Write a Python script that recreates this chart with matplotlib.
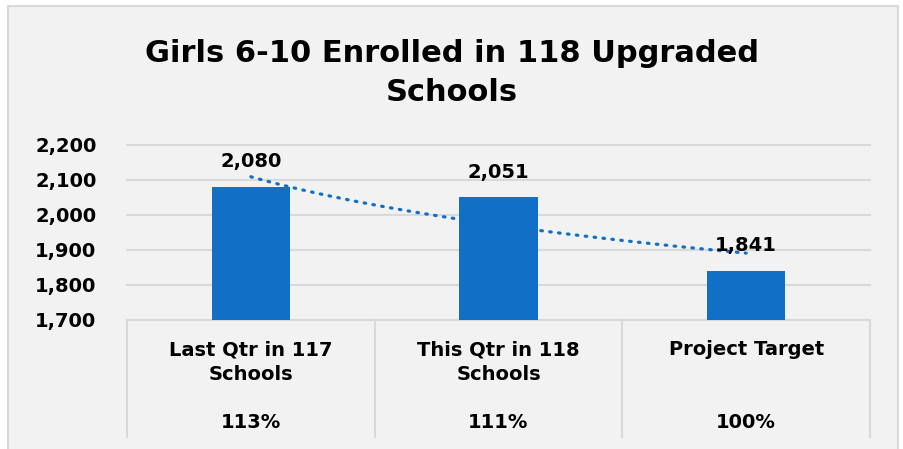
"""
Girls 6-10 enrolment — bar chart with log trendline and data table row.
"""
import matplotlib
matplotlib.use("Agg")
import matplotlib.pyplot as plt
import matplotlib.transforms as mtransforms
from matplotlib.patches import Rectangle
import numpy as np

# ── data ────────────────────────────────────────────────────────────────────
categories = ["Last Qtr in 117\nSchools", "This Qtr in 118\nSchools", "Project Target"]
enrolled = [2080, 2051, 1841]
pct_of_target = ["113%", "111%", "100%"]
y_ticks = [1700, 1800, 1900, 2000, 2100, 2200]

# ── colours ─────────────────────────────────────────────────────────────────
C_BG = "#F2F2F2"
C_EDGE = "#D9D9D9"
C_BAR = "#1170C6"
C_TXT = "#000000"
FONT = "DejaVu Sans"
FS = 14

W, H = 904, 449
fig = plt.figure(figsize=(W / 100, H / 100), dpi=100)
fig.patch.set_facecolor("white")

# outer chart frame
fig.patches.append(Rectangle((8 / W, -0.05), 890 / W, 1 - 6 / H + 0.05,
                             transform=fig.transFigure, facecolor=C_BG,
                             edgecolor=C_EDGE, linewidth=1.5, zorder=-5))

# plot area
L, R, T, B = 127, 870, 145, 320
ax = fig.add_axes([L / W, 1 - B / H, (R - L) / W, (B - T) / H])
ax.set_facecolor("none")

x = np.arange(len(categories))
ax.bar(x, enrolled, width=0.315, color=C_BAR, zorder=3)

# logarithmic trendline (as Excel does)
b, a = np.polyfit(np.log(x + 1), enrolled, 1)
xt = np.linspace(0, 2, 100)
ax.plot(xt, a + b * np.log(xt + 1), color=C_BAR, lw=2.3, ls=(0, (0.5, 2.3)),
        dash_capstyle="round", zorder=4, clip_on=False)

for xi, v in zip(x, enrolled):
    ax.annotate(f"{v:,}", (xi, v), xytext=(0, 18), textcoords="offset points",
                ha="center", va="center", fontsize=FS, fontweight="bold",
                family=FONT, color=C_TXT, zorder=5)

ax.set_xlim(-0.5, 2.5)
ax.set_ylim(1700, 2200)
ax.set_yticks(y_ticks)
ax.set_yticklabels([f"{t:,}" for t in y_ticks], fontsize=FS, fontweight="bold",
                   family=FONT, color=C_TXT)
ax.tick_params(axis="y", length=0, pad=22)
ax.set_xticks([])
ax.grid(axis="y", color=C_EDGE, lw=1.5, zorder=0)
ax.set_axisbelow(True)
for gl in ax.get_ygridlines():
    gl.set_clip_on(False)
for s in ax.spines.values():
    s.set_visible(False)

# data table below the axis
trans = mtransforms.blended_transform_factory(ax.transData, ax.transAxes)
tab_bottom = -(437 - B) / (B - T)
ax.plot([-0.5, 2.5], [0, 0], transform=trans, color=C_EDGE, lw=1.5,
        clip_on=False, zorder=2)
for xb in [-0.5, 0.5, 1.5, 2.5]:
    ax.plot([xb, xb], [0, tab_bottom], transform=trans, color=C_EDGE, lw=1.5,
            clip_on=False, zorder=2)
for xi, lbl, p in zip(x, categories, pct_of_target):
    ax.text(xi, -(340 - B) / (B - T), lbl, transform=trans, ha="center",
            va="top", fontsize=FS, fontweight="bold", family=FONT,
            color=C_TXT, linespacing=1.4)
    ax.text(xi, -(423 - B) / (B - T), p, transform=trans, ha="center",
            va="center", fontsize=FS, fontweight="bold", family=FONT,
            color=C_TXT)

# title
fig.text(452 / W, 1 - 73 / H, "Girls 6-10 Enrolled in 118 Upgraded\nSchools",
         ha="center", va="center", fontsize=22, fontweight="bold",
         family=FONT, color=C_TXT, linespacing=1.4)

fig.savefig("out.png", dpi=100, facecolor="white")
